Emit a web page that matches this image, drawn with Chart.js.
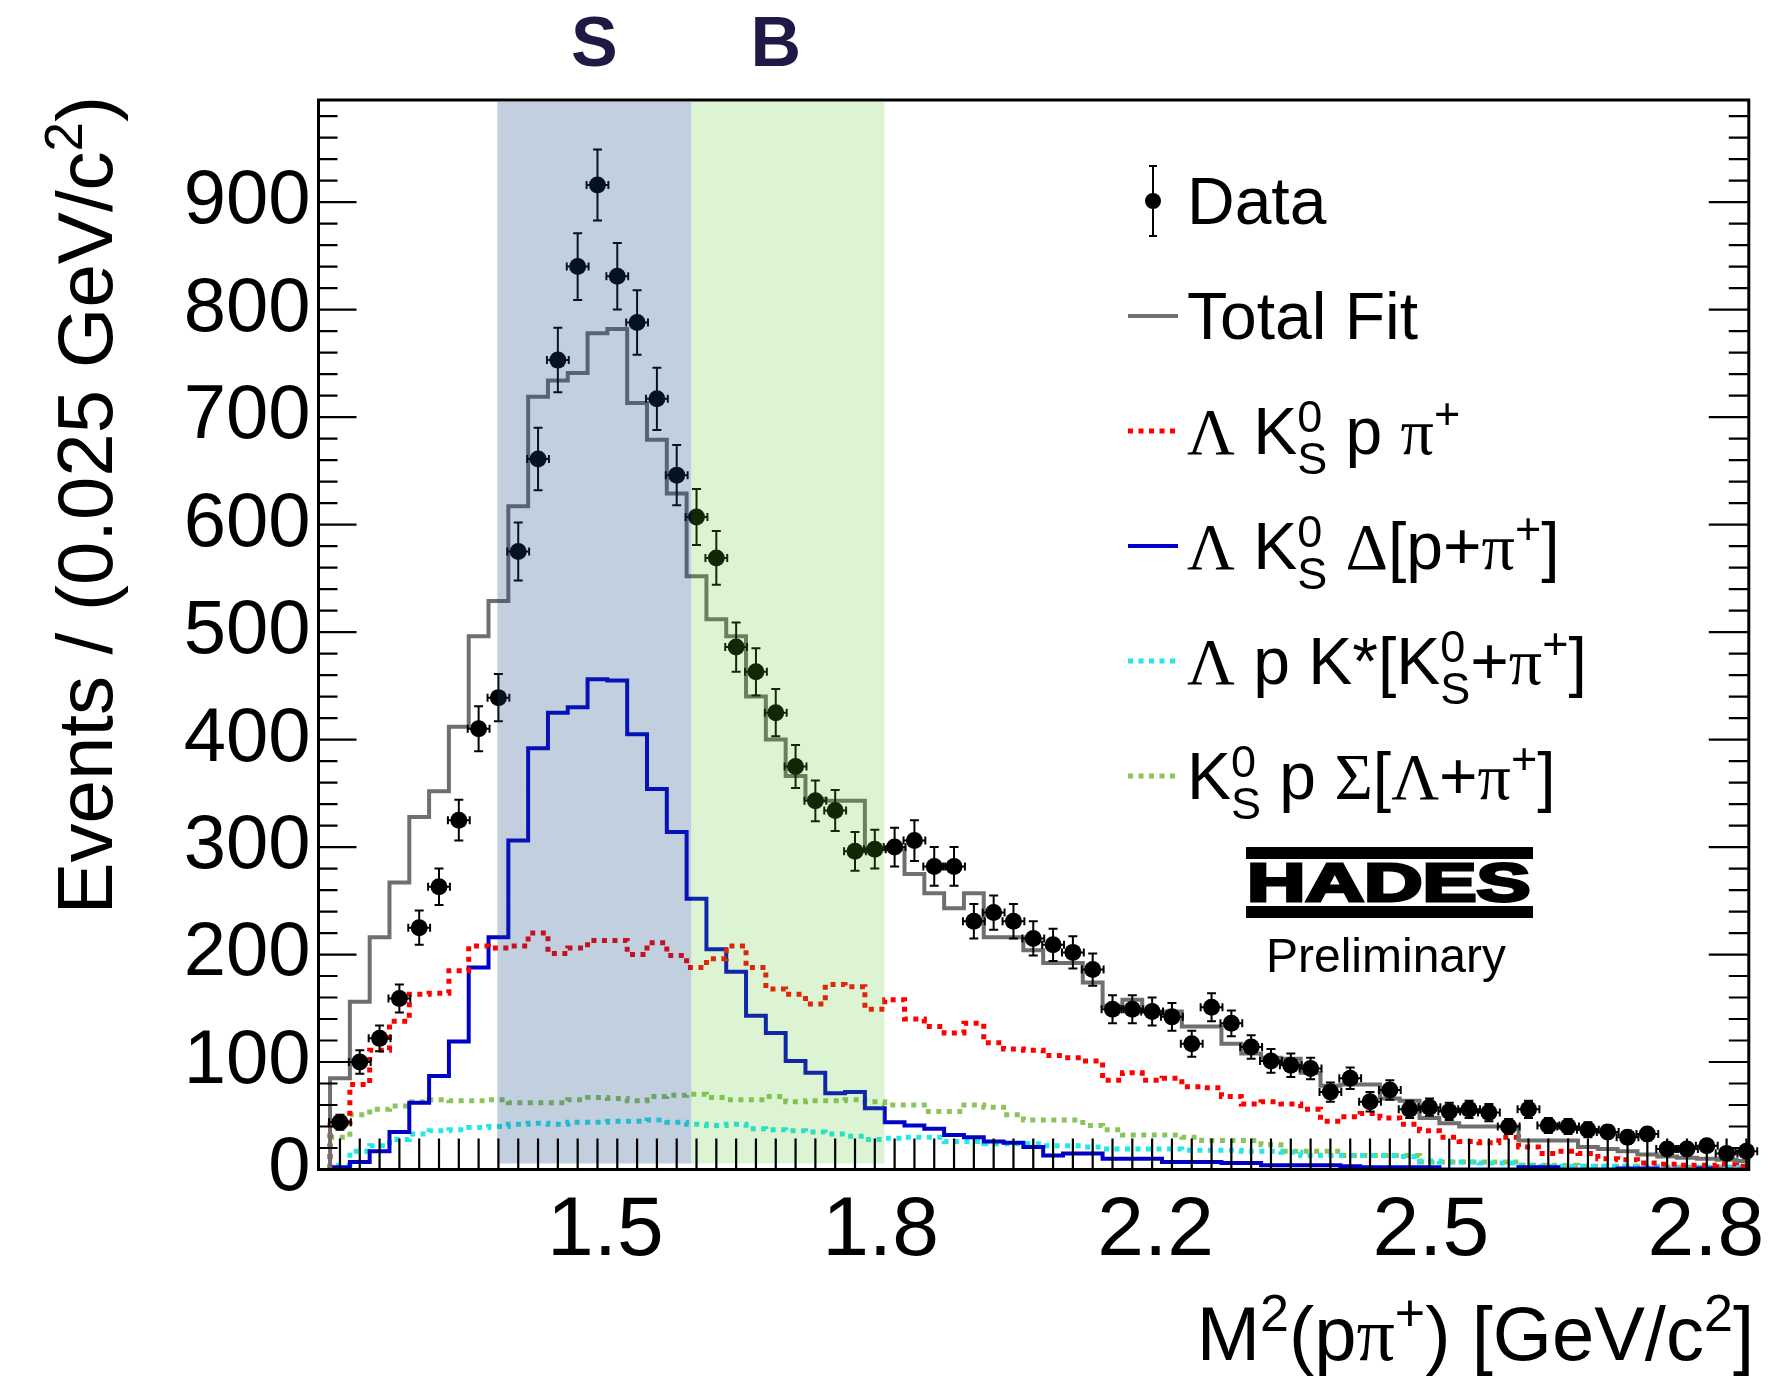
<!DOCTYPE html>
<html>
<head>
<meta charset="utf-8">
<script src="https://cdn.jsdelivr.net/npm/chart.js@4.4.1/dist/chart.umd.min.js"></script>
<style>
  html, body { margin: 0; padding: 0; background: #fff; }
</style>
</head>
<body>
<canvas id="chart" width="1777" height="1379"></canvas>
<script>
// ---- binning (GeV^2/c^4) ----
const binLow = 1.1664;
const binWidth = 0.024;
const xMin = 1.1524;
const xMax = 2.8853;
const yMax = 995;

// ---- axis labels ----
const xTickValues = [1.5, 11 / 6, 13 / 6, 2.5, 17 / 6];
const xTickLabels = ['1.5', '1.8', '2.2', '2.5', '2.8'];
const yTickValues = [0, 100, 200, 300, 400, 500, 600, 700, 800, 900];

// ---- signal / background windows ----
const regionS = [1.369, 1.604];
const regionB = [1.604, 1.838];

// ---- data points and errors (72 bins) ----
const dataCounts = [44, 100, 122, 159, 225, 263, 325, 410, 439, 575, 661, 753, 840, 916, 831, 788, 717, 646, 607, 569,
    486, 463, 425, 375, 343, 334, 296, 298, 300, 306, 282, 282, 231, 239, 231, 215, 209, 202, 186, 149,
    149, 147, 142, 117, 151, 136, 114, 101, 97, 94, 72, 85, 63, 74, 56, 58, 54, 56, 53, 40,
    56, 41, 40, 37, 35, 30, 33, 19, 19, 22, 15, 17];
const dataErrors = [7, 11, 12, 13, 16, 17, 19, 21, 22, 27, 29, 30, 31, 33, 31, 30, 29, 28, 26, 25,
    23, 22, 22, 20, 19, 19, 18, 18, 18, 19, 18, 18, 16, 16, 16, 16, 15, 15, 15, 13,
    13, 13, 13, 12, 13, 12, 11, 11, 11, 10, 9, 10, 9, 9, 8, 8, 8, 8, 8, 7,
    8, 7, 7, 7, 6, 6, 6, 5, 5, 5, 4, 4];

// ---- fit components ----
const totalFit = [85, 156, 216, 267, 328, 352, 412, 496, 529, 617, 719, 734, 741, 778, 782, 713, 679, 629, 552, 512,
    496, 440, 400, 366, 345, 343, 343, 298, 298, 275, 257, 243, 257, 216, 216, 204, 192, 192, 174, 152,
    158, 147, 147, 133, 133, 117, 108, 104, 103, 90, 78, 79, 79, 66, 64, 48, 43, 40, 40, 40,
    27, 27, 27, 21, 19, 17, 14, 12, 11, 10, 9, 8];
const lambdaK0pPi = [44, 79, 111, 138, 163, 164, 185, 208, 206, 208, 220, 201, 206, 213, 213, 200, 211, 199, 188, 196,
    208, 188, 168, 163, 154, 172, 170, 149, 158, 140, 133, 127, 136, 118, 112, 111, 106, 104, 101, 83,
    90, 83, 85, 77, 76, 68, 61, 63, 61, 56, 45, 49, 52, 48, 42, 36, 30, 26, 25, 30,
    21, 15, 17, 15, 10, 9, 6, 5, 4, 4, 5, 3];
const lambdaK0Delta = [2, 7, 17, 35, 62, 87, 119, 188, 216, 306, 392, 425, 430, 456, 455, 405, 354, 314, 252, 205,
    184, 143, 127, 101, 90, 71, 72, 57, 44, 41, 38, 32, 30, 26, 25, 21, 13, 15, 15, 10,
    10, 10, 7, 7, 7, 6, 6, 4, 4, 4, 4, 3, 2, 2, 2, 2, 0, 0, 0, 0,
    2, 2, 0, 0, 0, 1, 1, 0, 0, 1, 0, 0];
const lambdaPKstar = [4, 17, 22, 28, 33, 36, 37, 39, 40, 42, 43, 42, 44, 44, 45, 45, 46, 44, 42, 41,
    42, 38, 37, 36, 35, 33, 31, 28, 29, 30, 30, 26, 26, 24, 24, 24, 22, 22, 21, 19,
    19, 19, 19, 18, 18, 18, 17, 17, 16, 13, 13, 13, 13, 13, 12, 8, 7, 7, 6, 6,
    4, 3, 3, 3, 3, 3, 3, 2, 2, 2, 2, 2];
const k0pSigma = [30, 51, 56, 59, 63, 65, 64, 64, 65, 62, 62, 62, 65, 67, 66, 64, 68, 69, 70, 67,
    65, 65, 68, 63, 64, 64, 65, 63, 60, 60, 54, 54, 60, 58, 51, 46, 46, 46, 41, 37,
    32, 32, 32, 30, 27, 27, 27, 23, 17, 17, 17, 13, 13, 13, 13, 7, 7, 7, 7, 7,
    4, 4, 4, 3, 3, 3, 2, 2, 2, 2, 2, 2];

const SANS = '"Liberation Sans", Arial, Helvetica, sans-serif';
const SERIF = '"Liberation Serif", "Times New Roman", serif';

const GRAY = '#6f6f6f';
const BLUE = '#0000c8';
const RED = '#ff0000';
const CYAN = '#22e8e8';
const GREEN = '#8cc45c';


function binEdge(k) {
    return binLow + k * binWidth;
}

function stepPoints(values) {
    let pts = [{ x: binEdge(0), y: 0 }];
    for (let k = 0; k < values.length; k++) {
        pts.push({ x: binEdge(k), y: values[k] });
    }
    pts.push({ x: binEdge(values.length), y: values[values.length - 1] });
    return pts;
}

function dataPoints() {
    return dataCounts.map((v, k) => ({ x: binEdge(k) + binWidth / 2, y: v }));
}


// -------- rich text (sup / sub like ROOT TLatex) -------- //

function drawRich(ctx, parts, x, y, size, draw = true) {
    let cx = x;
    let small = Math.round(size * 0.68);
    for (let part of parts) {
        let p = typeof part === 'string' ? { t: part } : part;
        if (p.stack) {
            ctx.font = `${small}px ${SANS}`;
            let w = Math.max(ctx.measureText(p.stack[0]).width, ctx.measureText(p.stack[1]).width);
            if (draw) {
                ctx.fillText(p.stack[0], cx, y - size * 0.34);
                ctx.fillText(p.stack[1], cx, y + size * 0.30);
            }
            cx += w;
        } else if (p.sup !== undefined) {
            ctx.font = `${small}px ${SANS}`;
            if (draw) ctx.fillText(p.sup, cx, y - size * 0.38);
            cx += ctx.measureText(p.sup).width;
        } else {
            ctx.font = `${size}px ${p.serif ? SERIF : SANS}`;
            if (draw) ctx.fillText(p.t, cx, y);
            cx += ctx.measureText(p.t).width;
        }
    }
    return cx - x;
}


// -------- plugin: error bars, bands, ticks, frame, legend, titles -------- //

const rootDecor = {
    id: 'rootDecor',
    afterDatasetsDraw(chart) {
        const ctx = chart.ctx;
        const xs = chart.scales.x;
        const ys = chart.scales.y;
        const a = chart.chartArea;
        ctx.save();
        ctx.beginPath();
        ctx.rect(a.left, a.top, a.right - a.left + 10, a.bottom - a.top);
        ctx.clip();

        // error bars
        ctx.strokeStyle = '#000';
        ctx.lineWidth = 2;
        for (let k = 0; k < dataCounts.length; k++) {
            let cx = xs.getPixelForValue(binEdge(k) + binWidth / 2);
            let cy = ys.getPixelForValue(dataCounts[k]);
            let top = ys.getPixelForValue(dataCounts[k] + dataErrors[k]);
            let bot = ys.getPixelForValue(dataCounts[k] - dataErrors[k]);
            let l = xs.getPixelForValue(binEdge(k)) - 1;
            let r = xs.getPixelForValue(binEdge(k + 1)) + 1;
            ctx.beginPath();
            ctx.moveTo(cx, top); ctx.lineTo(cx, bot);
            ctx.moveTo(cx - 4.5, top); ctx.lineTo(cx + 4.5, top);
            ctx.moveTo(cx - 4.5, bot); ctx.lineTo(cx + 4.5, bot);
            ctx.moveTo(l, cy); ctx.lineTo(r, cy);
            ctx.moveTo(l, cy - 4); ctx.lineTo(l, cy + 4);
            ctx.moveTo(r, cy - 4); ctx.lineTo(r, cy + 4);
            ctx.stroke();
        }
        ctx.restore();

        // S and B windows (drawn on top, semi transparent)
        ctx.save();
        const bands = [[regionS, 'rgba(19,70,132,0.26)'], [regionB, 'rgba(80,195,40,0.2)']];
        for (let [rg, col] of bands) {
            let x1 = xs.getPixelForValue(rg[0]);
            let x2 = xs.getPixelForValue(rg[1]);
            ctx.fillStyle = col;
            ctx.fillRect(x1, a.top + 2, x2 - x1, a.bottom - a.top - 8);
        }
        ctx.restore();

        // inward ticks
        ctx.save();
        ctx.strokeStyle = '#000';
        ctx.lineWidth = 2.2;
        ctx.beginPath();
        for (let k = 0; k < dataCounts.length; k++) {
            let px = xs.getPixelForValue(binEdge(k) + binWidth / 2);
            if (px > a.right - 2) continue;
            ctx.moveTo(px, a.bottom);
            ctx.lineTo(px, a.bottom - 31);
        }
        for (let v = 0; v < yMax; v += 20) {
            let py = ys.getPixelForValue(v);
            let major = v % 100 === 0;
            ctx.moveTo(a.left, py); ctx.lineTo(a.left + (major ? 38 : 19), py);
            ctx.moveTo(a.right, py); ctx.lineTo(a.right - (major ? 40 : 20), py);
        }
        ctx.stroke();

        // frame
        ctx.lineWidth = 3;
        ctx.strokeRect(a.left, a.top, a.right - a.left, a.bottom - a.top);
        ctx.restore();
    },

    afterDraw(chart) {
        const ctx = chart.ctx;
        const xs = chart.scales.x;
        ctx.save();
        ctx.fillStyle = '#000';
        ctx.textAlign = 'left';
        ctx.textBaseline = 'alphabetic';

        // legend
        let rowY = 201;
        for (let ds of chart.data.datasets) {
            if (ds.legendKind === 'data') {
                ctx.strokeStyle = '#000';
                ctx.lineWidth = 2;
                ctx.beginPath();
                ctx.moveTo(1153, rowY - 35); ctx.lineTo(1153, rowY + 35);
                ctx.moveTo(1149, rowY - 35); ctx.lineTo(1157, rowY - 35);
                ctx.moveTo(1149, rowY + 35); ctx.lineTo(1157, rowY + 35);
                ctx.stroke();
                ctx.beginPath();
                ctx.arc(1153, rowY, 8, 0, Math.PI * 2);
                ctx.fill();
            } else {
                ctx.strokeStyle = ds.borderColor;
                ctx.lineWidth = ds.borderWidth;
                ctx.setLineDash(ds.borderDash || []);
                ctx.beginPath();
                ctx.moveTo(1128, rowY); ctx.lineTo(1178, rowY);
                ctx.stroke();
                ctx.setLineDash([]);
            }
            ctx.fillStyle = '#000';
            drawRich(ctx, ds.richLabel, 1187, rowY + 23, 66);
            rowY += 115;
        }

        // HADES logo
        ctx.fillRect(1246, 847, 287, 12);
        ctx.fillRect(1246, 906, 287, 12);
        ctx.save();
        ctx.translate(1247, 901);
        ctx.scale(1.5, 1);
        ctx.font = `bold 54px ${SANS}`;
        ctx.lineWidth = 3;
        ctx.strokeStyle = '#000';
        ctx.fillText('HADES', 0, 0);
        ctx.strokeText('HADES', 0, 0);
        ctx.restore();
        ctx.font = `48px ${SANS}`;
        ctx.fillText('Preliminary', 1266, 972);

        // S / B labels
        ctx.fillStyle = '#1f1a45';
        ctx.font = `bold 70px ${SANS}`;
        ctx.textAlign = 'center';
        ctx.fillText('S', xs.getPixelForValue((regionS[0] + regionS[1]) / 2), 66);
        ctx.fillText('B', xs.getPixelForValue((regionB[0] + regionB[1]) / 2) - 12, 66);
        ctx.textAlign = 'left';

        // axis titles
        ctx.fillStyle = '#000';
        const xTitle = ['M', { sup: '2' }, '(p', { t: 'π', serif: 1 }, { sup: '+' }, ') [GeV/c', { sup: '2' }, ']'];
        let w = drawRich(ctx, xTitle, 0, 0, 76, false);
        drawRich(ctx, xTitle, 1754 - w, 1360, 76);

        const yTitle = ['Events / (0.025 GeV/c', { sup: '2' }, ')'];
        ctx.save();
        ctx.translate(112, 96);
        ctx.rotate(-Math.PI / 2);
        w = drawRich(ctx, yTitle, 0, 0, 78, false);
        drawRich(ctx, yTitle, -w, 0, 78);
        ctx.restore();

        ctx.restore();
    }
};


// -------- CHART -------- //

function init() {
    const ctx = document.getElementById('chart');
    new Chart(ctx, {
        type: 'line',
        data: {
            datasets: [
                {
                    label: 'Data', legendKind: 'data', richLabel: ['Data'],
                    data: dataPoints(), showLine: false, clip: 10,
                    pointRadius: 8.5, pointBackgroundColor: '#000', pointBorderColor: '#000', pointBorderWidth: 0
                },
                {
                    label: 'Total Fit', richLabel: ['Total Fit'],
                    data: stepPoints(totalFit), stepped: true,
                    borderColor: GRAY, borderWidth: 4, pointRadius: 0
                },
                {
                    label: 'Lambda K0 p pi+',
                    richLabel: [{ t: 'Λ', serif: 1 }, ' K', { stack: ['0', 'S'] }, ' p ', { t: 'π', serif: 1 }, { sup: '+' }],
                    data: stepPoints(lambdaK0pPi), stepped: true,
                    borderColor: RED, borderWidth: 5, borderDash: [5, 5.5], pointRadius: 0
                },
                {
                    label: 'Lambda K0 Delta',
                    richLabel: [{ t: 'Λ', serif: 1 }, ' K', { stack: ['0', 'S'] }, ' ', { t: 'Δ', serif: 1 }, '[p+', { t: 'π', serif: 1 }, { sup: '+' }, ']'],
                    data: stepPoints(lambdaK0Delta), stepped: true,
                    borderColor: BLUE, borderWidth: 4, pointRadius: 0
                },
                {
                    label: 'Lambda p K*',
                    richLabel: [{ t: 'Λ', serif: 1 }, ' p K*[K', { stack: ['0', 'S'] }, '+', { t: 'π', serif: 1 }, { sup: '+' }, ']'],
                    data: stepPoints(lambdaPKstar), stepped: true,
                    borderColor: CYAN, borderWidth: 5, borderDash: [5, 5.5], pointRadius: 0
                },
                {
                    label: 'K0 p Sigma',
                    richLabel: ['K', { stack: ['0', 'S'] }, ' p ', { t: 'Σ', serif: 1 }, '[', { t: 'Λ', serif: 1 }, '+', { t: 'π', serif: 1 }, { sup: '+' }, ']'],
                    data: stepPoints(k0pSigma), stepped: true,
                    borderColor: GREEN, borderWidth: 5, borderDash: [5, 5.5], pointRadius: 0
                }
            ]
        },
        options: {
            responsive: false,
            animation: false,
            devicePixelRatio: 1,
            layout: { padding: { left: 0, right: 24, top: 100, bottom: 0 } },
            plugins: { legend: { display: false }, tooltip: { enabled: false } },
            scales: {
                x: {
                    type: 'linear', min: xMin, max: xMax,
                    grid: { display: false, drawTicks: false },
                    border: { display: false },
                    afterBuildTicks: s => { s.ticks = xTickValues.map(v => ({ value: v })); },
                    ticks: {
                        autoSkip: false, maxRotation: 0, padding: 12, color: '#000',
                        font: { family: SANS, size: 84 },
                        callback: (v, i) => xTickLabels[i]
                    },
                    afterFit: s => { s.height = 209.5; }
                },
                y: {
                    min: 0, max: yMax,
                    grid: { display: false, drawTicks: false },
                    border: { display: false },
                    afterBuildTicks: s => { s.ticks = yTickValues.map(v => ({ value: v })); },
                    ticks: {
                        autoSkip: false, padding: 8, color: '#000',
                        font: { family: SANS, size: 76 },
                        callback: (v, i) => String(yTickValues[i])
                    },
                    afterFit: s => { s.width = 318.5; }
                }
            }
        },
        plugins: [rootDecor]
    });
}

init();
</script>
</body>
</html>
